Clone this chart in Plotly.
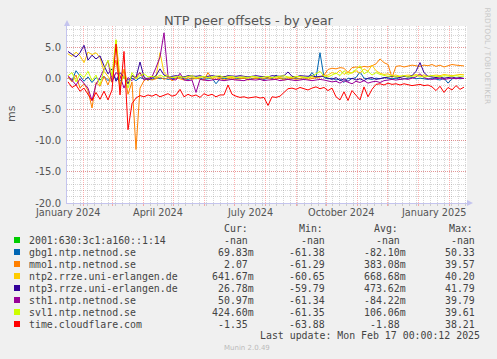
import plotly.graph_objects as go
import pandas as pd

# ---------------- data ----------------
dates = pd.date_range("2024-01-17", periods=100, freq="4D")

series_names = ["2001:630:3c1:a160::1:14", "gbg1.ntp.netnod.se", "mmo1.ntp.netnod.se",
                "ntp2.rrze.uni-erlangen.de", "ntp3.rrze.uni-erlangen.de", "sth1.ntp.netnod.se",
                "svl1.ntp.netnod.se", "time.cloudflare.com"]
series_colors = ["#00CC00", "#0066B3", "#FF8000", "#FFCC00", "#330099", "#990099", "#CCFF00", "#FF0000"]

v_2001 = []  # -nan, no data

v_gbg1 = [0.2, -0.3, 1.3, 0.5, -0.4, 0.3, -0.6, 0.2, -0.2, 0.4,
          -0.3, 0.5, 0.0, -0.4, 0.3, -0.2, 0.1, -0.3, 0.2, 0.0,
          0.1, -0.1, 0.2, 0.0, 0.1, -0.1, 0.0, 0.1, 0.2, 0.0,
          -0.1, 0.1, 0.0, 0.1, -0.1, 0.0, 0.1, -0.8, 0.0, 0.1,
          0.0, -0.1, 0.1, 0.0, 0.1, -0.1, 0.0, 0.1, 0.0, -0.1,
          0.1, 0.0, 0.6, 0.0, 0.1, -0.1, 0.0, 0.1, 0.0, -0.1,
          0.2, 1.0, 0.1, 4.2, 0.2, 0.0, 0.1, -0.2, 0.0, -0.6,
          0.1, 0.0, 0.2, 1.1, 0.1, 0.0, -0.1, 0.1, 0.0, 0.2,
          0.1, 0.0, 0.1, -0.1, 0.0, 0.1, 0.2, 0.0, 0.1, 0.0,
          -0.1, 0.1, 0.0, -0.2, 0.1, -0.7, 0.0, 0.1, 0.0, 0.07]

v_mmo1 = [0.3, -0.5, 0.6, -1.5, -0.8, -1.9, -4.7, -0.6, -1.2, 0.4,
          -1.0, 0.8, 3.0, -1.5, 1.5, -2.5, -0.5, -11.4, -1.5, -0.3,
          0.1, -0.2, 0.0, 0.3, -0.1, 0.2, -0.3, 0.1, 0.0, -0.2,
          0.2, -0.1, 0.1, 0.0, -0.2, 1.0, 0.0, -0.1, 0.1, -0.2,
          0.0, 0.2, -0.1, 0.0, 0.1, -0.2, 0.0, 0.1, -0.1, 0.0,
          0.2, -0.1, 0.0, 0.1, -0.2, 0.0, 0.1, -0.1, 0.0, 0.2,
          -0.1, 0.0, 0.1, 0.3, 0.6, 1.5, 1.7, 1.6, 1.8, 1.7,
          1.0, 1.8, 1.9, 1.8, 2.0, 1.9, 2.1, 2.4, 3.2, 2.6,
          2.3, 0.2, 2.0, 2.1, 1.9, 2.0, 2.2, 2.1, 2.0, 2.2,
          2.1, 2.3, 2.0, 2.2, 1.9, 2.1, 2.3, 2.2, 2.1, 2.07]

v_ntp2 = [4.0, 3.6, 4.3, 3.7, 2.6, 4.3, 3.9, 4.2, 3.4, 1.2,
          0.4, -0.6, 6.2, 0.3, 1.5, -0.8, 0.5, 0.0, 1.0, 0.2,
          -0.3, 0.5, 0.2, 4.2, 1.0, 0.4, 0.2, 0.3, 0.1, 0.2,
          0.4, 0.2, 0.1, 0.3, 0.2, 0.2, 0.1, 0.3, 0.2, 0.4,
          0.2, 0.1, 0.2, 0.3, 0.2, 0.1, 0.3, 0.2, 0.2, 0.4,
          0.1, 0.2, 0.3, 0.2, 0.1, 0.2, 0.3, 0.2, 0.4, 0.2,
          0.1, 0.3, 0.2, 0.3, 0.5, 0.6, 1.0, 0.8, 1.4, 0.7,
          1.1, 0.9, 1.3, 0.9, 1.6, 1.2, 2.2, 1.3, 0.9, 0.7,
          0.8, 0.5, 0.6, 0.4, 0.5, 0.6, 0.5, 0.7, 0.5, 0.6,
          0.4, 0.5, 0.6, 0.5, 0.7, 0.6, 0.5, 0.6, 0.7, 0.64]

v_ntp3 = [4.4, 4.0, 3.5, 4.2, 5.4, 3.0, 3.8, 3.2, 3.7, 2.1,
          0.8, 1.6, -0.4, 1.0, 0.3, -0.8, 0.5, 0.2, 2.7, 0.3,
          -0.2, 0.1, 0.5, 1.6, 0.6, 0.3, 0.4, 0.5, 0.4, 0.3,
          0.5, 0.4, 0.4, 0.5, 0.3, 0.4, 0.5, 0.4, 0.4, 0.3,
          0.5, 0.4, 0.4, 0.5, 0.4, 0.3, 0.4, 0.5, 0.4, 0.4,
          0.3, 0.5, 0.4, 0.4, 0.5, 1.1, 0.4, 0.3, 0.5, 0.4,
          0.4, 0.5, 0.3, 0.4, 0.4, 0.1, -0.1, 0.2, -0.3, 0.0,
          -0.4, 0.1, -0.2, 0.0, -0.3, 0.1, 0.2, -0.1, 0.0, 0.2,
          0.3, 0.4, 0.3, 0.2, 0.4, 0.3, 0.5, 1.2, 2.6, 1.0,
          0.4, 0.3, 0.2, 0.3, 0.1, 0.2, 0.3, 0.1, 0.2, 0.03]

v_sth1 = [0.5, -0.3, -1.0, 0.0, -0.8, -1.5, -3.5, -0.9, 0.2, 1.5,
          2.9, -0.5, 1.0, 0.5, -1.5, 0.2, -0.3, 0.4, 1.0, -0.2,
          0.0, 0.3, 1.8, 3.5, 7.4, 0.5, -0.1, -0.2, 0.9, -0.2,
          -0.3, -0.2, -2.2, -0.1, -0.2, -0.3, -0.2, -0.1, -0.2, -0.3,
          -0.2, -0.1, -0.2, -0.2, -0.3, -0.1, -0.2, -0.2, -0.1, -0.3,
          -0.2, -0.2, -0.1, -0.3, -0.2, -0.1, -0.2, -0.3, -0.2, -0.1,
          -0.2, -0.3, -0.2, -0.1, -0.2, -0.3, -0.5, -0.4, -0.7, -0.3,
          -0.6, -0.8, -0.4, -0.6, -0.3, -0.7, -0.5, -0.4, -0.6, -0.3,
          -0.2, -0.1, -0.2, -0.1, 0.0, -0.1, 0.1, 0.3, 0.8, 0.2,
          0.0, -0.1, 0.0, 0.1, -0.1, 0.0, 0.1, 0.0, 0.1, 0.05]

v_svl1 = [0.5, 1.0, -0.5, 0.8, 0.2, 1.2, -0.3, 0.6, -1.0, 1.5,
          3.0, 0.5, 6.3, -1.0, 0.5, -1.5, 1.0, 0.0, 0.5, 0.8,
          0.3, 0.4, 0.2, 0.6, 0.3, 0.5, 0.2, 0.3, 0.4, 0.2,
          0.3, 0.5, 0.2, 0.3, 0.4, 0.2, 0.3, 0.3, 0.5, 0.2,
          0.3, 0.4, 0.2, 0.3, 0.3, 0.2, 0.4, 0.3, 0.2, 0.3,
          0.4, 0.2, 0.3, 0.3, 0.5, 0.3, 0.2, 0.4, 0.3, 0.3,
          0.2, 0.4, 0.8, 1.2, 0.4, 0.3, 0.6, 0.9, 0.5, 1.3,
          0.7, 1.0, 1.5, 2.1, 0.8, 1.2, 0.6, 1.0, 0.7, 0.5,
          0.4, 0.5, 0.3, 0.4, 0.5, 0.3, 0.4, 0.5, 0.4, 0.3,
          0.4, 0.5, 0.4, 0.3, 0.5, 0.4, 0.4, 0.5, 0.4, 0.42]

v_cloudflare = [-0.5, -1.4, -1.0, -2.0, -1.5, -2.4, -3.5, -2.2, -3.3, -2.0,
                -3.4, -1.8, 5.6, -2.6, 4.4, -8.2, -4.0, -3.1, -2.7, -2.9,
                -2.6, -2.8, -2.5, -2.9, -2.7, -2.4, -2.8, -2.6, -1.7, -2.9,
                -2.5, -2.8, -2.6, -3.0, -2.4, -2.7, -2.5, -2.9, -2.6, -2.6,
                -1.0, -2.5, -2.8, -3.0, -2.9, -3.1, -3.0, -2.9, -3.1, -3.0,
                -4.3, -2.9, -3.0, -2.8, -2.2, -1.6, -1.5, -1.7, -1.4, -1.6,
                -1.8, -1.5, -1.3, -1.6, -1.4, -1.9, -1.5, -2.9, -3.4, -2.1,
                -3.5, -1.9, -2.6, -3.4, -1.3, -2.9, -1.7, -0.9, -0.8, -1.0,
                -0.7, -0.9, -0.8, -1.0, -0.8, -0.9, -1.1, -1.0, -0.9, -1.1,
                -1.0, -1.3, -1.9, -1.2, -2.2, -1.4, -1.8, -1.1, -1.7, -1.35]

cur_vals = ["-nan", "69.83m", "2.07", "641.67m", "26.78m", "50.97m", "424.60m", "-1.35"]
min_vals = ["-nan", "-61.38", "-61.29", "-60.65", "-59.79", "-61.34", "-61.35", "-63.88"]
avg_vals = ["-nan", "-82.10m", "383.08m", "668.68m", "473.62m", "-84.22m", "106.06m", "-1.88"]
max_vals = ["-nan", "50.33", "39.57", "40.20", "41.79", "39.79", "39.61", "38.21"]

ytick_vals = [-20, -15, -10, -5, 0, 5]
ytick_text = ["-20.0", "-15.0", "-10.0", "-5.0", "0.0", "5.0"]
xlabel_dates = ["2024-01-16 12:00", "2024-04-16", "2024-07-16 12:00", "2024-10-16 12:00", "2025-01-16 12:00"]
xlabel_text = ["January 2024", "April 2024", "July 2024", "October 2024", "January 2025"]

all_values = [v_2001, v_gbg1, v_mmo1, v_ntp2, v_ntp3, v_sth1, v_svl1, v_cloudflare]

# ---------------- geometry ----------------
W, H = 497, 359
L, R, T, B = 67, 467, 26, 203


def px(x):
    return (x - L) / (R - L)


def py(y):
    return (B - y) / (B - T)


fig = go.Figure()
for name, color, vals in zip(series_names, series_colors, all_values):
    if len(vals) == 0:
        continue
    fig.add_trace(go.Scatter(x=dates[:len(vals)], y=vals, mode="lines", name=name,
                             line=dict(color=color, width=1), showlegend=False,
                             hoverinfo="skip"))

MAJ = "rgba(255,0,0,0.30)"
MIN = "rgba(120,120,120,0.30)"
AX = "#C4C4EE"
TXT = "#555555"
DASH = "1px,1px"

fig.update_layout(
    width=W, height=H,
    margin=dict(l=L, r=W - R, t=T, b=H - B, pad=0, autoexpand=False),
    paper_bgcolor="#F0F0F0", plot_bgcolor="#FFFFFF",
    font=dict(family="DejaVu Sans", color=TXT, size=10),
    showlegend=False,
    xaxis=dict(type="date", range=["2024-01-16", "2025-02-19"], showticklabels=False,
               tick0="2024-01-01", dtick="M1", showgrid=True, gridcolor=MAJ, griddash=DASH,
               ticks="outside", ticklen=2, tickcolor=MAJ, zeroline=False,
               showline=True, linecolor=AX, linewidth=1, fixedrange=True,
               minor=dict(tick0="2024-01-01", dtick=7 * 86400000, showgrid=True,
                          gridcolor=MIN, griddash=DASH, ticks="outside", ticklen=2,
                          tickcolor=MIN)),
    yaxis=dict(range=[-20, 8.5], tickmode="array", tickvals=ytick_vals, ticktext=ytick_text,
               showgrid=True, gridcolor=MAJ, griddash=DASH, zeroline=False,
               ticks="outside", ticklen=3, tickcolor="rgba(0,0,0,0)",
               tickfont=dict(size=10, color=TXT),
               showline=True, linecolor=AX, linewidth=1, fixedrange=True,
               minor=dict(tick0=0, dtick=1, showgrid=True, gridcolor=MIN, griddash=DASH)),
)

ann = []
# title
ann.append(dict(text="NTP peer offsets - by year", x=px(248.5), y=py(20), xref="paper", yref="paper",
                xanchor="center", yanchor="middle", showarrow=False,
                font=dict(size=13, color=TXT, family="DejaVu Sans")))
# y axis title
ann.append(dict(text="ms", x=px(11), y=py(113), xref="paper", yref="paper", textangle=-90,
                xanchor="center", yanchor="middle", showarrow=False,
                font=dict(size=11, color=TXT, family="DejaVu Sans")))
# right side credit
ann.append(dict(text="RRDTOOL / TOBI OETIKER", x=px(487.5), y=py(56), xref="paper", yref="paper",
                textangle=90, xanchor="center", yanchor="middle", showarrow=False,
                font=dict(size=7.5, color="#C8C8C8", family="DejaVu Sans")))
# x labels
for d, t in zip(xlabel_dates, xlabel_text):
    ann.append(dict(text=t, x=d, y=py(212), xref="x", yref="paper", xanchor="center",
                    yanchor="middle", showarrow=False,
                    font=dict(size=9.7, color=TXT, family="DejaVu Sans")))

MONO = "DejaVu Sans Mono"
MS = 9.9
LEG = "#444444"
NB = "\u00a0"


def fmt(s):
    return s if s.endswith("m") else s + NB


# column headers
for txt, xl in zip(["Cur:", "Min:", "Avg:", "Max:"], [222, 297, 372, 447]):
    ann.append(dict(text=txt, x=px(xl), y=py(228), xref="paper", yref="paper", xanchor="left",
                    yanchor="middle", showarrow=False, font=dict(size=MS, color=LEG, family=MONO)))

shapes = []
for i, (name, color) in enumerate(zip(series_names, series_colors)):
    yy = 240 + 12 * i
    shapes.append(dict(type="rect", xref="paper", yref="paper", x0=px(14), x1=px(20),
                       y0=py(yy + 3), y1=py(yy - 3), fillcolor=color, line=dict(width=0)))
    ann.append(dict(text=name, x=px(27), y=py(yy), xref="paper", yref="paper", xanchor="left",
                    yanchor="middle", showarrow=False, font=dict(size=MS, color=LEG, family=MONO)))
    for col, xr in zip([cur_vals, min_vals, avg_vals, max_vals], [256, 333, 408, 483]):
        ann.append(dict(text=fmt(col[i]), x=px(xr), y=py(yy), xref="paper", yref="paper",
                        xanchor="right", yanchor="middle", showarrow=False,
                        font=dict(size=MS, color=LEG, family=MONO)))

ann.append(dict(text="Last update: Mon Feb 17 00:00:12 2025", x=px(482), y=py(335), xref="paper",
                yref="paper", xanchor="right", yanchor="middle", showarrow=False,
                font=dict(size=MS, color=LEG, family=MONO)))
ann.append(dict(text="Munin 2.0.49", x=px(222), y=py(348), xref="paper", yref="paper",
                xanchor="left", yanchor="middle", showarrow=False,
                font=dict(size=7, color="#BBBBBB", family="DejaVu Sans")))

# axis arrows
shapes.append(dict(type="path", xref="paper", yref="paper",
                   path=f"M {px(64)} {py(26)} L {px(70)} {py(26)} L {px(67)} {py(20)} Z",
                   fillcolor=AX, line=dict(width=0)))
shapes.append(dict(type="path", xref="paper", yref="paper",
                   path=f"M {px(467)} {py(200)} L {px(467)} {py(206)} L {px(473)} {py(203)} Z",
                   fillcolor=AX, line=dict(width=0)))

fig.update_layout(annotations=ann, shapes=shapes)
fig.write_html("out.html", config={"displayModeBar": False, "staticPlot": True},
               post_script="document.body.style.margin='0';document.body.style.background='#F0F0F0';")
